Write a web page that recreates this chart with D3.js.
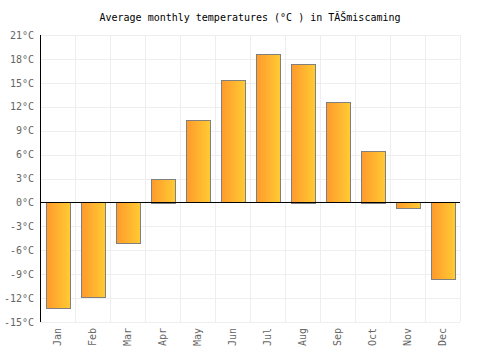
<!DOCTYPE html>
<html>
<head>
<meta charset="utf-8">
<script src="https://cdn.jsdelivr.net/npm/d3@7"></script>
<style>
  body { margin: 0; background: #fff; }
  text { font-family: "DejaVu Sans Mono", monospace; }
</style>
</head>
<body>
<div class="canvas"></div>
<script>
const months = ['Jan', 'Feb', 'Mar', 'Apr', 'May', 'Jun', 'Jul', 'Aug', 'Sep', 'Oct', 'Nov', 'Dec']
const temps = [-13.3, -11.9, -5.2, 3.0, 10.3, 15.3, 18.6, 17.4, 12.6, 6.5, -0.7, -9.7]
const yTicks = [-15, -12, -9, -6, -3, 0, 3, 6, 9, 12, 15, 18, 21]
const title = 'Average monthly temperatures (°C ) in TĂŠmiscaming'

const margin = {top: 35, right: 40, bottom: 28, left: 40}
const width = 500, height = 350
const innerW = width - margin.left - margin.right
const innerH = height - margin.top - margin.bottom

const svg = d3.select('.canvas').append('svg')
  .attr('width', width)
  .attr('height', height)

const defs = svg.append('defs')
const grad = defs.append('linearGradient')
  .attr('id', 'barFill')
  .attr('x1', '0%').attr('x2', '100%')
  .attr('y1', '0%').attr('y2', '0%')
grad.append('stop').attr('offset', '0%').attr('stop-color', '#ff9a2c')
grad.append('stop').attr('offset', '100%').attr('stop-color', '#ffcb33')

svg.append('text')
  .attr('x', width / 2)
  .attr('y', 21)
  .attr('text-anchor', 'middle')
  .attr('font-size', 10)
  .attr('fill', '#000')
  .text(title)

const graph = svg.append('g')
  .attr('transform', `translate(${margin.left}, ${margin.top})`)

const x = d3.scaleBand()
  .domain(months)
  .range([0, innerW])
  .paddingInner(0.32)
  .paddingOuter(0.16)

const y = d3.scaleLinear()
  .domain([-15, 21])
  .range([innerH, 0])

// grid
graph.append('g')
  .selectAll('line')
  .data(yTicks)
  .join('line')
  .attr('x1', 0).attr('x2', innerW)
  .attr('y1', d => Math.round(y(d)) + 0.5)
  .attr('y2', d => Math.round(y(d)) + 0.5)
  .attr('stroke', '#eeeeee')

const step = innerW / months.length
graph.append('g')
  .selectAll('line')
  .data(d3.range(months.length + 1))
  .join('line')
  .attr('x1', i => Math.round(i * step) + 0.5)
  .attr('x2', i => Math.round(i * step) + 0.5)
  .attr('y1', 0).attr('y2', innerH)
  .attr('stroke', '#eeeeee')

// bars
graph.append('g')
  .selectAll('rect')
  .data(temps)
  .join('rect')
  .attr('x', (d, i) => Math.round(x(months[i])) + 0.5)
  .attr('width', Math.round(x.bandwidth()))
  .attr('y', d => Math.round(y(Math.max(0, d))) + 0.5)
  .attr('height', d => Math.round(Math.abs(y(d) - y(0))))
  .attr('fill', 'url(#barFill)')
  .attr('stroke', '#808080')
  .attr('stroke-width', 1)

// zero line
graph.append('line')
  .attr('x1', 0).attr('x2', innerW)
  .attr('y1', Math.round(y(0)) + 0.5)
  .attr('y2', Math.round(y(0)) + 0.5)
  .attr('stroke', '#000')

// y axis
const yAxis = graph.append('g')
  .call(d3.axisLeft(y)
    .tickValues(yTicks)
    .tickSize(0)
    .tickPadding(6)
    .tickFormat(d => `${d}°C`))
yAxis.select('.domain').attr('stroke', '#000').attr('d', `M0.5,0V${innerH}`)
yAxis.selectAll('text')
  .attr('font-family', '"DejaVu Sans Mono", monospace')
  .attr('font-size', 10)
  .attr('fill', '#666')

// x axis labels
const xAxis = graph.append('g')
  .attr('transform', `translate(0, ${innerH})`)
  .call(d3.axisBottom(x).tickSize(0).tickPadding(0))
xAxis.select('.domain').remove()
xAxis.selectAll('text')
  .attr('font-family', '"DejaVu Sans Mono", monospace')
  .attr('font-size', 10)
  .attr('fill', '#666')
  .attr('transform', 'rotate(-90)')
  .attr('text-anchor', 'end')
  .attr('dy', '0.35em')
  .attr('x', -6)
  .attr('y', 0)
</script>
</body>
</html>
